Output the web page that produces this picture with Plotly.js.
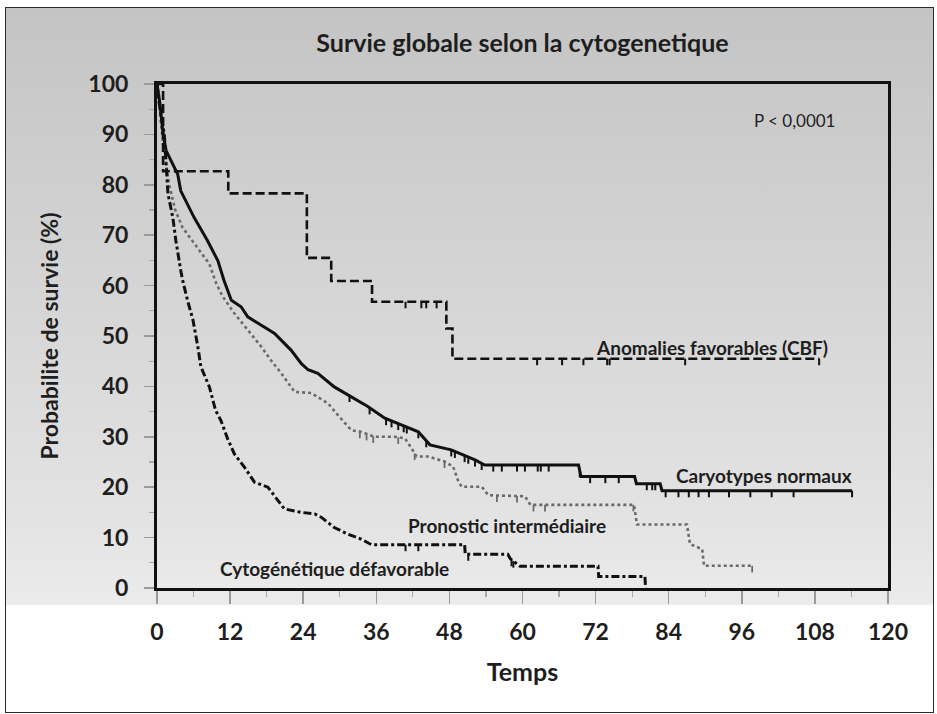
<!DOCTYPE html>
<html>
<head>
<meta charset="utf-8">
<script src="https://cdn.plot.ly/plotly-3.0.1.min.js"></script>
<style>
  html, body { margin: 0; padding: 0; background: #ffffff; }
  #wrap { position: relative; width: 937px; height: 714px; overflow: hidden; }
  #panel {
    position: absolute; left: 5px; top: 7px; width: 927px; height: 704px;
    border: 1.5px solid #2a2a2a;
    background: linear-gradient(to bottom, #c4c4c4 0px, #d3d3d3 250px, #e4e4e4 520px, #ebebeb 596px, #ffffff 598px, #ffffff 100%);
  }
  #chart { position: absolute; left: 0; top: 0; width: 937px; height: 714px; }
</style>
</head>
<body>
<div id="wrap">
  <div id="panel"></div>
  <div id="chart"></div>
</div>
<script>
// Kaplan-Meier curves: overall survival by cytogenetic group (time in months, survival in %)

// Caryotypes normaux (solid)
const normalTime = [0, 0.5, 1.0, 1.5, 2.3, 3.4, 3.9, 5.0, 6.1, 8.3, 10.0, 11.0, 12.2, 13.8, 14.9, 17.6, 19.3, 22.0, 23.7, 24.8, 26.4, 29.1, 31.9, 34.6, 37.4, 40.1, 42.9, 44.8, 48.3, 52.2, 53.8, 69.2, 69.6, 78.4, 78.7, 82.6, 82.9, 114.1];
const normalSurv = [100, 96, 90, 86.8, 84.8, 82.1, 78.8, 76, 73.5, 68.9, 64.9, 61, 57.1, 55.8, 53.8, 51.8, 50.5, 47.2, 44.5, 43.3, 42.6, 39.9, 38, 36, 33.7, 32.4, 31, 28.4, 27.4, 25.4, 24.4, 24.4, 22.1, 22.1, 20.7, 20.7, 19.3, 19.3];
const normalCensor = [31.6, 34.9, 37.6, 38.5, 39.6, 40.5, 41.0, 42.9, 44.2, 48.3, 48.9, 50.5, 51.1, 52.2, 53.3, 55.2, 56.6, 59.1, 60.4, 62.5, 63.0, 64.3, 69.4, 71.1, 73.6, 75.8, 80.4, 81.3, 81.8, 83.5, 85.6, 87.3, 88.9, 90.6, 93.9, 97.4, 100.9, 104.5, 114.1];

// Pronostic intermediaire (dotted grey)
const interTime = [0, 1, 2, 3, 4.2, 6.1, 8.6, 9.7, 10.8, 12.7, 14.9, 17.1, 18.7, 20.4, 22.0, 22.6, 25.3, 28.1, 29.7, 31.9, 33.5, 35.7, 39.0, 40.7, 41.8, 42.6, 44.5, 47.2, 48.6, 49.4, 50.0, 53.3, 54.4, 60.4, 61.3, 78.3, 78.8, 87.0, 87.5, 89.5, 89.8, 97.7];
const interSurv = [100, 88, 80, 75, 71.5, 68.3, 64.3, 60.5, 57.8, 54.5, 51.2, 47.9, 45.2, 42.6, 39.9, 38.9, 38.7, 36.6, 34.3, 31.3, 31, 30, 30, 29.7, 27.7, 26.1, 26.1, 25.1, 24.1, 21.4, 20.1, 20.1, 18.4, 18.2, 16.5, 16.5, 12.6, 12.6, 8.7, 7.7, 4.4, 4.4];
const interCensor = [33.3, 34.4, 35.5, 39.6, 42.3, 47.2, 55.8, 59.1, 61.8, 63.7, 78.2, 97.7];

// Cytogenetique defavorable (dash-dot)
const adverseTime = [0, 0.5, 1.2, 1.5, 1.8, 2.6, 3.1, 3.9, 4.2, 5.0, 5.9, 6.7, 7.2, 8.6, 9.6, 10.5, 11.6, 12.7, 14.4, 16.0, 18.2, 20.9, 23.7, 25.9, 27.0, 29.1, 31.3, 33.5, 35.2, 50.5, 50.6, 57.6, 58.0, 59.6, 72.4, 72.5, 80.1, 80.2];
const adverseSurv = [100, 95, 90, 83.5, 78.2, 73.5, 68.9, 63, 61.1, 57.1, 53.2, 47.9, 43.9, 39.9, 35.3, 33.2, 29.6, 26.6, 23.9, 21, 20, 15.7, 15, 14.7, 14, 12, 10.7, 9.7, 8.6, 8.6, 6.7, 6.7, 5.8, 4.3, 4.3, 2.3, 2.3, 0];
const adverseCensor = [40.8, 42.9, 51.1, 58.2, 58.5];

// Anomalies favorables CBF (dashed, KM step function)
const cbfTime = [0, 1.0, 11.7, 24.6, 28.6, 35.3, 47.5, 48.5, 108.7];
const cbfSurv = [100, 82.7, 78.3, 65.5, 60.9, 56.8, 51.5, 45.5, 45.5];
const cbfCensor = [40.8, 43.4, 44.2, 45.9, 62.4, 66.5, 70.0, 73.9, 74.3, 86.7, 108.7];

// Axis ticks
const xTicks = [0, 12, 24, 36, 48, 60, 72, 84, 96, 108, 120];
const yTicks = [0, 10, 20, 30, 40, 50, 60, 70, 80, 90, 100];

// Value of a piecewise-linear curve at time t
function linearAt(ts, ss, t) {
  for (let i = 0; i < ts.length - 1; i++) {
    if (t >= ts[i] && t <= ts[i + 1]) {
      if (ts[i + 1] === ts[i]) return ss[i + 1];
      const f = (t - ts[i]) / (ts[i + 1] - ts[i]);
      return ss[i] + f * (ss[i + 1] - ss[i]);
    }
  }
  return ss[ss.length - 1];
}
// Value of a right-continuous step curve at time t
function stepAt(ts, ss, t) {
  let v = ss[0];
  for (let i = 0; i < ts.length; i++) { if (ts[i] <= t) v = ss[i]; }
  return v;
}

const FONT = "Lato, 'Open Sans', 'DejaVu Sans', sans-serif";
const INK = '#1e1e1e';

function curve(x, y, color, width, dash, shape) {
  return { x: x, y: y, type: 'scatter', mode: 'lines', hoverinfo: 'skip', showlegend: false,
    line: { color: color, width: width, dash: dash, shape: shape } };
}
// Censoring marks: short vertical ticks hanging below the curve
function censors(times, valueFn, color, width) {
  return { x: times, y: times.map(valueFn), type: 'scatter', mode: 'markers', hoverinfo: 'skip', showlegend: false,
    marker: { size: 1, color: 'rgba(0,0,0,0)' },
    error_y: { type: 'constant', symmetric: false, value: 0, valueminus: 1.3, width: 0, thickness: width, color: color } };
}

const traces = [
  curve(interTime, interSurv, '#6a6a6a', 2.6, '3px,3px', 'linear'),
  censors(interCensor, t => linearAt(interTime, interSurv, t), '#6a6a6a', 1.8),
  curve(adverseTime, adverseSurv, '#111111', 3, '8px,3px,3px,3px', 'linear'),
  censors(adverseCensor, t => linearAt(adverseTime, adverseSurv, t), '#111111', 2),
  curve(cbfTime, cbfSurv, '#111111', 2.6, '9px,4px', 'hv'),
  censors(cbfCensor, t => stepAt(cbfTime, cbfSurv, t), '#111111', 2),
  curve(normalTime, normalSurv, '#111111', 3, 'solid', 'linear'),
  censors(normalCensor, t => linearAt(normalTime, normalSurv, t), '#111111', 2)
];

const annot = (x, y, text, size, weight) => ({
  x: x, y: y, xref: 'x', yref: 'y', text: text, showarrow: false,
  xanchor: 'center', yanchor: 'middle',
  font: { family: FONT, size: size, color: INK, weight: weight }
});

const layout = {
  width: 937, height: 714,
  margin: { l: 157, r: 49, t: 84, b: 126 },
  paper_bgcolor: 'rgba(0,0,0,0)',
  plot_bgcolor: 'rgba(0,0,0,0)',
  title: { text: 'Survie globale selon la cytogenetique', x: 0.5, xref: 'paper', xanchor: 'center',
    y: 1 - 43 / 714, yref: 'container', yanchor: 'middle',
    font: { family: FONT, size: 25, color: INK, weight: 700 } },
  xaxis: {
    range: [0, 120], tickvals: xTicks, ticktext: xTicks.map(String),
    showgrid: false, zeroline: false,
    showline: true, linecolor: '#111', linewidth: 3, mirror: true,
    ticks: 'outside', ticklen: 13, tickwidth: 1.5, tickcolor: '#9a9a9a',
    minor: { dtick: 6, tick0: 0, ticks: 'outside', ticklen: 6, tickwidth: 1.2, tickcolor: '#a8a8a8' },
    ticklabelstandoff: 8,
    tickfont: { family: FONT, size: 23, color: INK, weight: 700 },
    title: { text: 'Temps', standoff: 20, font: { family: FONT, size: 25, color: INK, weight: 700 } }
  },
  yaxis: {
    range: [0, 100], tickvals: yTicks, ticktext: yTicks.map(String),
    showgrid: false, zeroline: false,
    showline: true, linecolor: '#111', linewidth: 3, mirror: true,
    ticks: 'outside', ticklen: 10, tickwidth: 1.5, tickcolor: '#9a9a9a',
    minor: { dtick: 5, tick0: 0, ticks: 'outside', ticklen: 5, tickwidth: 1.2, tickcolor: '#a8a8a8' },
    ticklabelstandoff: 11,
    tickfont: { family: FONT, size: 23, color: INK, weight: 700 },
    title: { text: 'Probabilite de survie (%)', standoff: 24, font: { family: FONT, size: 23, color: INK, weight: 700 } }
  },
  annotations: [
    annot(104.7, 92.7, 'P &lt; 0,0001', 17, 400),
    annot(91.1, 47.8, 'Anomalies favorables (CBF)', 19, 700),
    annot(99.6, 22.4, 'Caryotypes normaux', 19, 700),
    annot(57.4, 12.5, 'Pronostic intermédiaire', 19, 700),
    annot(29.1, 3.8, 'Cytogénétique défavorable', 19, 700)
  ]
};

Plotly.newPlot('chart', traces, layout, { displayModeBar: false, staticPlot: true });
</script>
</body>
</html>
